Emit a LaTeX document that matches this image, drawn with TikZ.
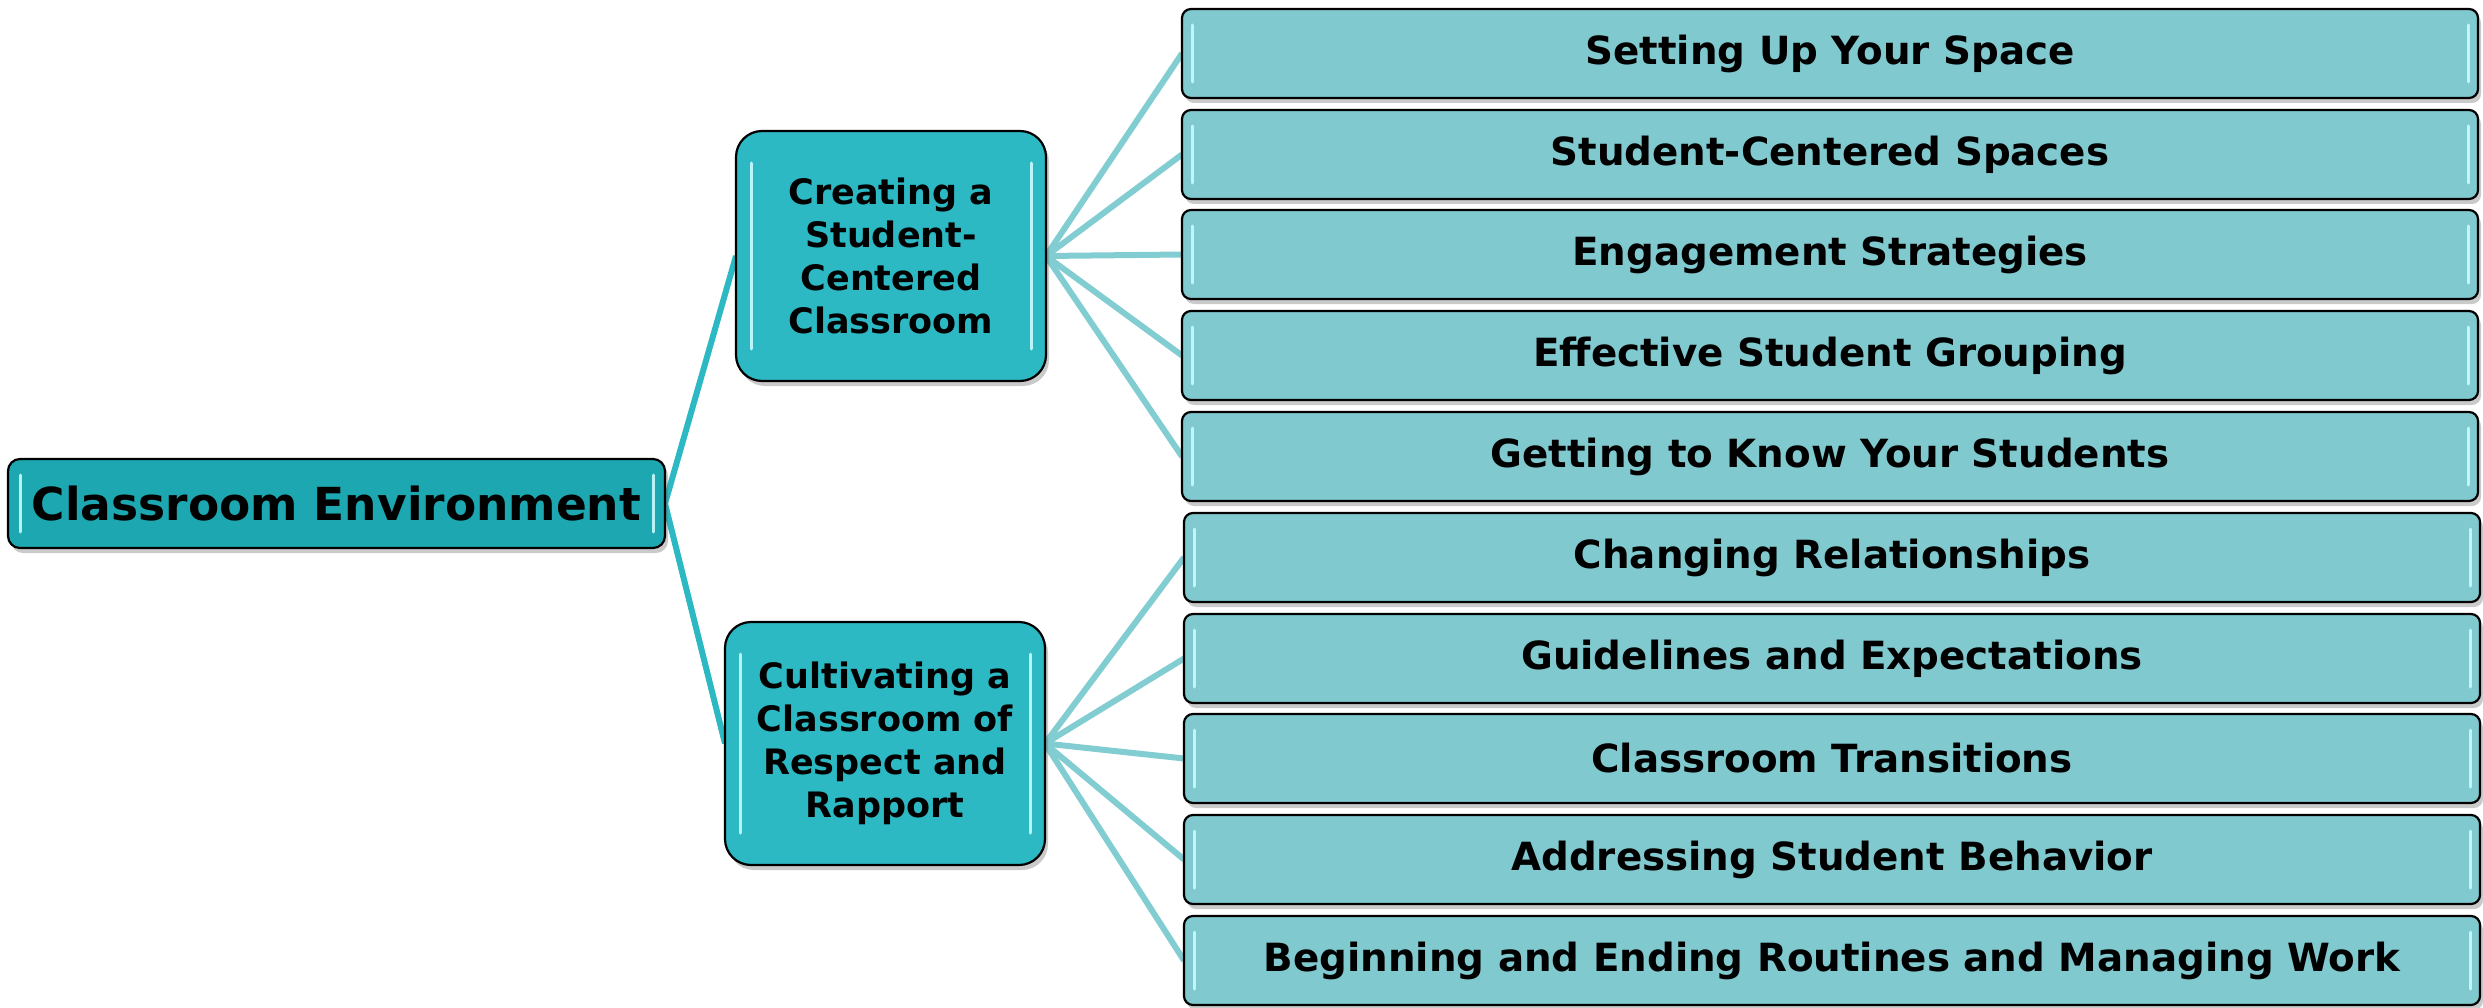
\documentclass[tikz,border=0pt]{standalone}
\usepackage{fontspec}
\setmainfont{DejaVu Sans}
\usetikzlibrary{shadows,calc}
\pgfdeclarelayer{background}
\pgfsetlayers{background,main}
\definecolor{rootfill}{HTML}{1CA7B1}
\definecolor{midfill}{HTML}{2CB9C3}
\definecolor{leaffill}{HTML}{80C9CF}
\definecolor{rootline}{HTML}{2CB9C3}
\definecolor{leafline}{HTML}{82CDD2}
\definecolor{glint}{HTML}{C8FBFF}
\tikzset{
  x=1pt,y=-1pt,
  boxbase/.style={draw=black,line width=2.2pt,inner sep=0pt,outer sep=0pt,anchor=north west,
    text=black,font=\bfseries,drop shadow={shadow xshift=3pt,shadow yshift=-5pt,opacity=0.35,fill=black!60}},
  rootbox/.style={boxbase,fill=rootfill,rounded corners=12pt,minimum width=657pt,minimum height=89pt,font=\bfseries\fontsize{45.5}{50}\selectfont},
  midbox/.style={boxbase,fill=midfill,rounded corners=26pt,minimum width=310pt,minimum height=250pt,align=center,font=\bfseries\fontsize{35}{43}\selectfont},
  leafbox/.style={boxbase,fill=leaffill,rounded corners=9pt,minimum width=1296pt,minimum height=89pt,font=\bfseries\fontsize{38.8}{44}\selectfont},
  rootlink/.style={draw=rootline,line width=6pt},
  leaflink/.style={draw=leafline,line width=6pt},
  glintline/.style={draw=glint,line width=3pt,line cap=round,opacity=0.9}
}
\begin{document}
\begin{tikzpicture}
\useasboundingbox (0,0) rectangle (2483,1008);
\node[rootbox] (root) at (8,459) {Classroom Environment};
\node[midbox] (m1) at (736,131) {Creating a\\Student-\\Centered\\Classroom};
\node[midbox,minimum width=320pt,minimum height=243pt] (m2) at (725,622) {Cultivating a\\Classroom of\\Respect and\\Rapport};
\node[leafbox] (r1) at (1182,9) {Setting Up Your Space};
\node[leafbox] (r2) at (1182,110) {Student-Centered Spaces};
\node[leafbox] (r3) at (1182,210) {Engagement Strategies};
\node[leafbox] (r4) at (1182,311) {Effective Student Grouping};
\node[leafbox] (r5) at (1182,412) {Getting to Know Your Students};
\node[leafbox] (r6) at (1184,513) {Changing Relationships};
\node[leafbox] (r7) at (1184,614) {Guidelines and Expectations};
\node[leafbox] (r8) at (1184,714) {Classroom Transitions};
\node[leafbox] (r9) at (1184,815) {Addressing Student Behavior};
\node[leafbox] (r10) at (1184,916) {Beginning and Ending Routines and Managing Work};
% glints
\foreach \n/\d in {root/12,r1/10,r2/10,r3/10,r4/10,r5/10,r6/10,r7/10,r8/10,r9/10,r10/10}{
  \draw[glintline] ([shift={(\d,16)}]\n.north west) -- ([shift={(\d,-16)}]\n.south west);
  \draw[glintline] ([shift={(-\d,16)}]\n.north east) -- ([shift={(-\d,-16)}]\n.south east);
}
\foreach \n in {m1,m2}{
  \draw[glintline] ([shift={(15,32)}]\n.north west) -- ([shift={(15,-32)}]\n.south west);
  \draw[glintline] ([shift={(-15,32)}]\n.north east) -- ([shift={(-15,-32)}]\n.south east);
}
\begin{pgfonlayer}{background}
\draw[rootlink] (root.east) -- (m1.west);
\draw[rootlink] (root.east) -- (m2.west);
\foreach \r in {r1,r2,r3,r4,r5}{\draw[leaflink] (m1.east) -- (\r.west);}
\foreach \r in {r6,r7,r8,r9,r10}{\draw[leaflink] (m2.east) -- (\r.west);}
\end{pgfonlayer}
\end{tikzpicture}
\end{document}
